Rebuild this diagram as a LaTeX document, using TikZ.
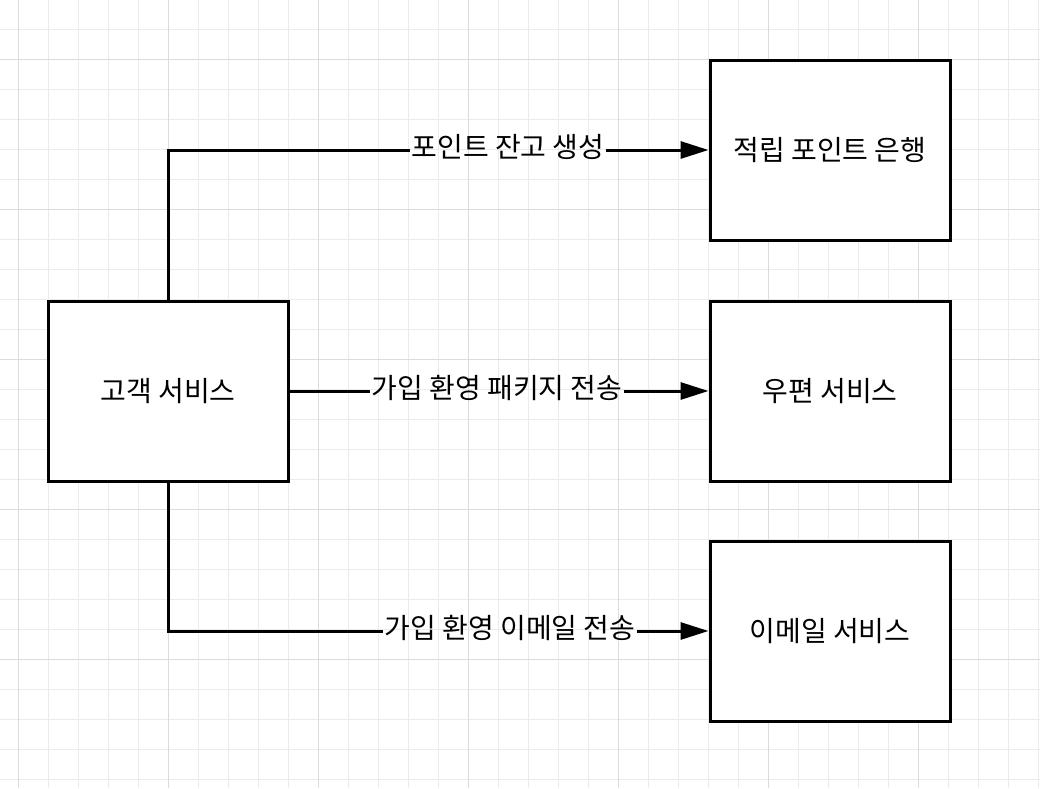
\documentclass[tikz,border=0pt]{standalone}
\usepackage{fontspec}
\newfontfamily\kr{Noto Sans CJK KR}
\usetikzlibrary{arrows.meta}
\begin{document}
\begin{tikzpicture}[x=1pt,y=-1pt,
  box/.style={draw=black,fill=white,line width=3pt,minimum width=240pt,minimum height=180pt,font=\kr\fontsize{28}{32}\selectfont,inner sep=0pt},
  lbl/.style={font=\kr\fontsize{28}{32}\selectfont,inner sep=1pt},
  conn/.style={line width=3pt},
  arr/.style={conn,-{Triangle[length=28pt,width=17pt]}},
  minor/.style={draw={rgb,255:red,235;green,235;blue,235},line width=1pt},
  major/.style={draw={rgb,255:red,220;green,220;blue,220},line width=1pt}]
\useasboundingbox (0,0) rectangle (1040,788);
\fill[white] (0,0) rectangle (1040,788);
% grid
\foreach \x in {48,78,108,138,198,228,258,288,348,378,408,438,498,528,558,588,648,678,708,738,798,828,858,888,948,978,1008,1038}
  \draw[minor] (\x,0) -- (\x,788);
\foreach \y in {-1,29,89,119,149,179,239,269,299,329,389,419,449,479,539,569,599,629,689,719,749,779}
  \draw[minor] (0,\y) -- (1040,\y);
\foreach \x in {18,168,318,468,618,768,918}
  \draw[major] (\x,0) -- (\x,788);
\foreach \y in {59,209,359,509,659}
  \draw[major] (0,\y) -- (1040,\y);
% boxes
\node[box] (cs) at (168,391) {고객 서비스};
\node[box] (bank) at (830,150) {적립 포인트 은행};
\node[box] (post) at (830,391) {우편 서비스};
\node[box] (mail) at (830,631) {이메일 서비스};
% labels
\node[lbl] (l1) at (508,147) {포인트 잔고 생성};
\node[lbl] (l2) at (497,388) {가입 환영 패키지 전송};
\node[lbl] (l3) at (510,628) {가입 환영 이메일 전송};
% connectors
\draw[conn] (cs.north) |- (l1.west |- bank.west);
\draw[arr] (l1.east |- bank.west) -- (bank.west);
\draw[conn] (cs.east) -- (l2.west |- post.west);
\draw[arr] (l2.east |- post.west) -- (post.west);
\draw[conn] (cs.south) |- (l3.west |- mail.west);
\draw[arr] (l3.east |- mail.west) -- (mail.west);
\end{tikzpicture}
\end{document}
